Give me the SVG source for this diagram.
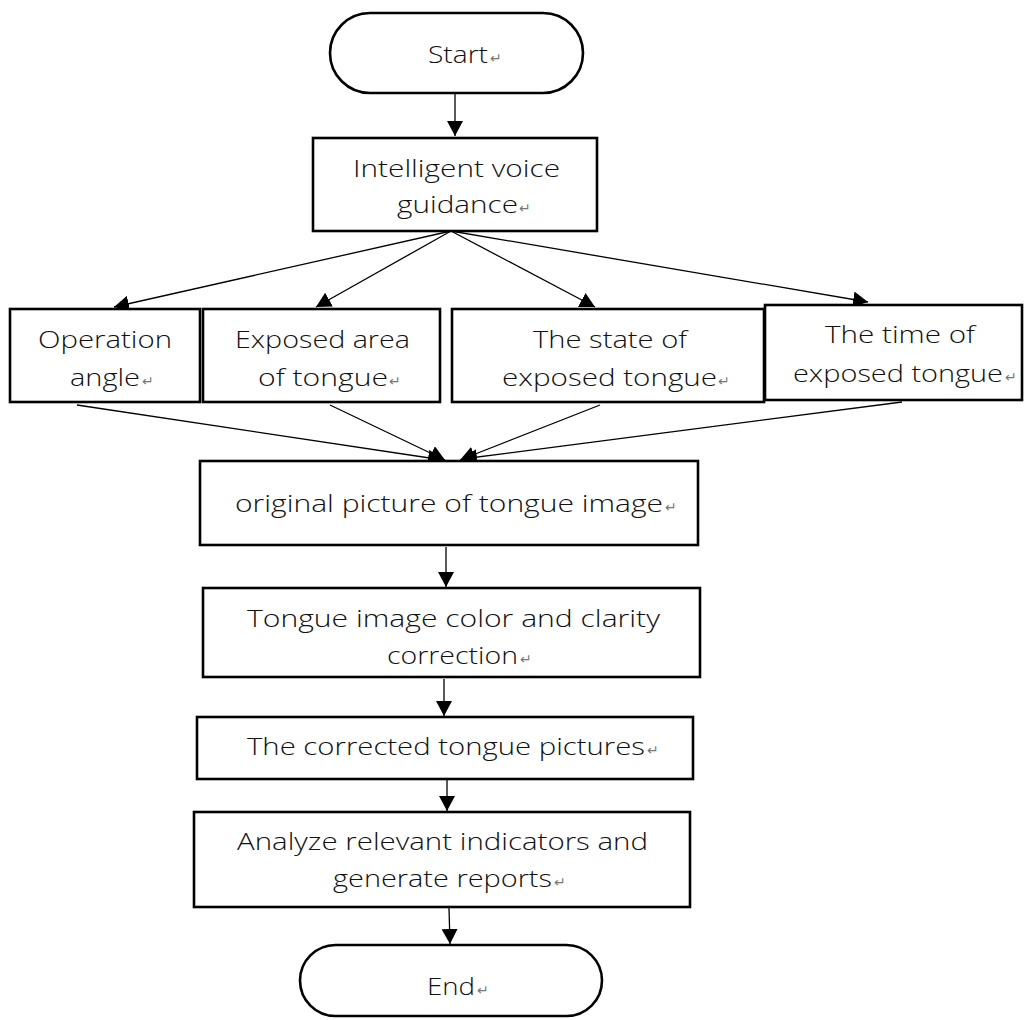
<svg xmlns="http://www.w3.org/2000/svg" width="1025" height="1020" viewBox="0 0 1025 1020">
<style>
.box{fill:#fff;stroke:#000;stroke-width:2.6}
.t{font-family:"Open Sans","Noto Sans","DejaVu Sans",sans-serif;font-weight:300;font-size:23px;fill:#111}
.r{font-family:"DejaVu Sans",sans-serif;font-size:14px;fill:#777}
.c{fill:none;stroke:#000;stroke-width:1.3}
</style>
<defs>
<marker id="ah" markerUnits="userSpaceOnUse" markerWidth="15" markerHeight="16" refX="15" refY="8" orient="auto">
<path d="M0,0 L15,8 L0,16 z" fill="#000"/>
</marker>
</defs>
<rect width="1025" height="1020" fill="#fff"/>
<g id="connectors">
<line class="c" x1="455" y1="94" x2="455" y2="136" marker-end="url(#ah)"/>
<line class="c" x1="451" y1="231" x2="114" y2="307" marker-end="url(#ah)"/>
<line class="c" x1="451" y1="231" x2="316" y2="307" marker-end="url(#ah)"/>
<line class="c" x1="451" y1="231" x2="595" y2="307" marker-end="url(#ah)"/>
<line class="c" x1="451" y1="231" x2="868" y2="302" marker-end="url(#ah)"/>
<line class="c" x1="77" y1="405" x2="443" y2="460" marker-end="url(#ah)"/>
<line class="c" x1="330" y1="405" x2="445" y2="460" marker-end="url(#ah)"/>
<line class="c" x1="600" y1="405" x2="460" y2="460" marker-end="url(#ah)"/>
<line class="c" x1="902" y1="402" x2="462" y2="459" marker-end="url(#ah)"/>
<line class="c" x1="446" y1="547" x2="446" y2="587" marker-end="url(#ah)"/>
<line class="c" x1="444" y1="679" x2="444" y2="716" marker-end="url(#ah)"/>
<line class="c" x1="447" y1="780" x2="447" y2="811" marker-end="url(#ah)"/>
<line class="c" x1="449" y1="908" x2="450" y2="944" marker-end="url(#ah)"/>
</g>
<g id="start">
<rect class="box" x="330" y="13" width="253" height="80" rx="40"/>
<text class="t" x="428" y="63" textLength="60" lengthAdjust="spacingAndGlyphs">Start</text><text class="r" x="490" y="63">↵</text>
</g>
<g id="voice">
<rect class="box" x="313" y="138" width="284" height="93"/>
<text class="t" x="353" y="177" textLength="207" lengthAdjust="spacingAndGlyphs">Intelligent voice</text>
<text class="t" x="397" y="213" textLength="121" lengthAdjust="spacingAndGlyphs">guidance</text><text class="r" x="519" y="213">↵</text>
</g>
<g id="angle">
<rect class="box" x="10" y="309" width="190" height="93"/>
<text class="t" x="38" y="348" textLength="134" lengthAdjust="spacingAndGlyphs">Operation</text>
<text class="t" x="70" y="386" textLength="70" lengthAdjust="spacingAndGlyphs">angle</text><text class="r" x="142" y="386">↵</text>
</g>
<g id="area">
<rect class="box" x="203" y="309" width="237" height="93"/>
<text class="t" x="235" y="348" textLength="175" lengthAdjust="spacingAndGlyphs">Exposed area</text>
<text class="t" x="258" y="386" textLength="130" lengthAdjust="spacingAndGlyphs">of tongue</text><text class="r" x="389" y="386">↵</text>
</g>
<g id="state">
<rect class="box" x="452" y="309" width="312" height="93"/>
<text class="t" x="533" y="348" textLength="154" lengthAdjust="spacingAndGlyphs">The state of</text>
<text class="t" x="502" y="386" textLength="215" lengthAdjust="spacingAndGlyphs">exposed tongue</text><text class="r" x="718" y="386">↵</text>
</g>
<g id="time">
<rect class="box" x="765" y="305" width="257" height="95"/>
<text class="t" x="825" y="343" textLength="150" lengthAdjust="spacingAndGlyphs">The time of</text>
<text class="t" x="793" y="382" textLength="210" lengthAdjust="spacingAndGlyphs">exposed tongue</text><text class="r" x="1005" y="382">↵</text>
</g>
<g id="original">
<rect class="box" x="200" y="461" width="498" height="84"/>
<text class="t" x="235" y="512" textLength="428" lengthAdjust="spacingAndGlyphs">original picture of tongue image</text><text class="r" x="665" y="512">↵</text>
</g>
<g id="correction">
<rect class="box" x="203" y="588" width="497" height="89"/>
<text class="t" x="247" y="627" textLength="413" lengthAdjust="spacingAndGlyphs">Tongue image color and clarity</text>
<text class="t" x="387" y="664" textLength="131" lengthAdjust="spacingAndGlyphs">correction</text><text class="r" x="520" y="664">↵</text>
</g>
<g id="corrected">
<rect class="box" x="197" y="717" width="496" height="62"/>
<text class="t" x="247" y="755" textLength="398" lengthAdjust="spacingAndGlyphs">The corrected tongue pictures</text><text class="r" x="647" y="755">↵</text>
</g>
<g id="analyze">
<rect class="box" x="194" y="812" width="496" height="95"/>
<text class="t" x="237" y="850" textLength="411" lengthAdjust="spacingAndGlyphs">Analyze relevant indicators and</text>
<text class="t" x="333" y="887" textLength="219" lengthAdjust="spacingAndGlyphs">generate reports</text><text class="r" x="554" y="887">↵</text>
</g>
<g id="end">
<rect class="box" x="300" y="945" width="302" height="71" rx="35.5"/>
<text class="t" x="427" y="995" textLength="48" lengthAdjust="spacingAndGlyphs">End</text><text class="r" x="477" y="995">↵</text>
</g>
</svg>
